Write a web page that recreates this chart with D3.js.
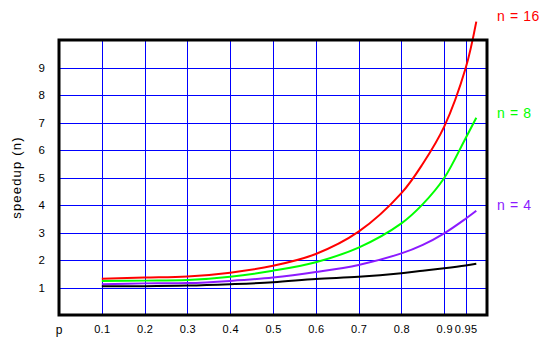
<!DOCTYPE html>
<html lang="en">
<head>
<meta charset="utf-8">
<script src="https://d3js.org/d3.v7.min.js"></script>
<style>
  body { margin: 0; background: #fff; }
  text { font-family: "Liberation Sans", Arial, sans-serif; }
</style>
</head>
<body>
<div id="chart"></div>
<script>
// p values sampled along each curve
var pValues = [0.1, 0.2, 0.3, 0.4, 0.5, 0.6, 0.7, 0.8, 0.85, 0.9, 0.95, 0.975];

// speedup for each n
var speedup16 = [1.32, 1.36, 1.40, 1.54, 1.79, 2.22, 3.03, 4.43, 5.50, 6.85, 8.97, 10.67];
var speedup8  = [1.24, 1.25, 1.27, 1.39, 1.61, 1.92, 2.45, 3.33, 4.03, 4.98, 6.43, 7.17];
var speedup4  = [1.12, 1.15, 1.16, 1.24, 1.36, 1.56, 1.82, 2.24, 2.55, 2.97, 3.50, 3.79];
var speedup2  = [1.05, 1.05, 1.07, 1.12, 1.19, 1.31, 1.39, 1.52, 1.61, 1.70, 1.80, 1.86];

var xTicks = [0.1, 0.2, 0.3, 0.4, 0.5, 0.6, 0.7, 0.8, 0.9, 0.95];
var yTicks = [1, 2, 3, 4, 5, 6, 7, 8, 9];

var seriesNames = ["n = 16", "n = 8", "n = 4"];
var seriesColors = ["#ff0000", "#00ff00", "#8c1aff", "#000000"];

var width = 549, height = 345;
var margin = {top: 40, right: 62, bottom: 30, left: 59};

var x = d3.scaleLinear()
    .domain([0, 1])
    .range([margin.left, width - margin.right]);

var y = d3.scaleLinear()
    .domain([0, 10])
    .range([height - margin.bottom, margin.top]);

var px = v => Math.round(v) + 0.5;

var svg = d3.select("#chart").append("svg")
    .attr("width", width)
    .attr("height", height);

// grid
svg.append("g")
    .attr("stroke", "#0000ff")
    .attr("stroke-width", 1)
    .call(g => g.selectAll(".v").data(xTicks).enter().append("line")
        .attr("x1", d => px(x(d))).attr("x2", d => px(x(d)))
        .attr("y1", y(0)).attr("y2", y(10)))
    .call(g => g.selectAll(".h").data(yTicks).enter().append("line")
        .attr("x1", x(0)).attr("x2", x(1))
        .attr("y1", d => px(y(d))).attr("y2", d => px(y(d))));

// axes (labels only)
var xAxis = g => g
    .attr("transform", `translate(0,${y(0)})`)
    .call(d3.axisBottom(x).tickValues(xTicks).tickSize(0).tickPadding(10).tickFormat(d3.format("")))
    .call(g => g.select(".domain").remove())
    .call(g => g.selectAll("text").attr("font-size", 11).attr("fill", "#000")
        .attr("letter-spacing", 0.3)
        .attr("font-family", "Liberation Sans, Arial, sans-serif"));

var yAxis = g => g
    .attr("transform", `translate(${x(0)},0)`)
    .call(d3.axisLeft(y).tickValues(yTicks).tickSize(0).tickPadding(14))
    .call(g => g.select(".domain").remove())
    .call(g => g.selectAll("text").attr("font-size", 11.5).attr("fill", "#000")
        .attr("font-family", "Liberation Sans, Arial, sans-serif"));

svg.append("g").call(xAxis);
svg.append("g").call(yAxis);

svg.append("text")
    .attr("x", x(0))
    .attr("y", y(0) + 10)
    .attr("dy", "0.71em")
    .attr("text-anchor", "middle")
    .attr("font-size", 12)
    .text("p");

svg.append("text")
    .attr("transform", `translate(21,${(y(0) + y(10)) / 2}) rotate(-90)`)
    .attr("text-anchor", "middle")
    .attr("font-size", 13)
    .attr("letter-spacing", 1.2)
    .text("speedup (n)");

// curves
var allSeries = [speedup16, speedup8, speedup4, speedup2];

var line = d3.line()
    .x((d, i) => x(pValues[i]))
    .y(d => y(d))
    .curve(d3.curveCatmullRom.alpha(0.5));

svg.append("g")
    .attr("fill", "none")
    .attr("stroke-width", 2)
    .selectAll("path")
    .data(allSeries)
    .enter()
    .append("path")
    .attr("stroke", (d, i) => seriesColors[i])
    .attr("d", d => line(d));

// frame
svg.append("rect")
    .attr("x", x(0))
    .attr("y", y(10))
    .attr("width", x(1) - x(0))
    .attr("height", y(0) - y(10))
    .attr("fill", "none")
    .attr("stroke", "#000")
    .attr("stroke-width", 3);

// series labels
var labelY = [16, 113, 205];
svg.selectAll(".lbl")
    .data(seriesNames)
    .enter()
    .append("text")
    .attr("x", 497)
    .attr("y", (d, i) => labelY[i])
    .attr("dy", "0.35em")
    .attr("font-size", 14)
    .attr("letter-spacing", 0.6)
    .attr("fill", (d, i) => seriesColors[i])
    .text(d => d);
</script>
</body>
</html>
